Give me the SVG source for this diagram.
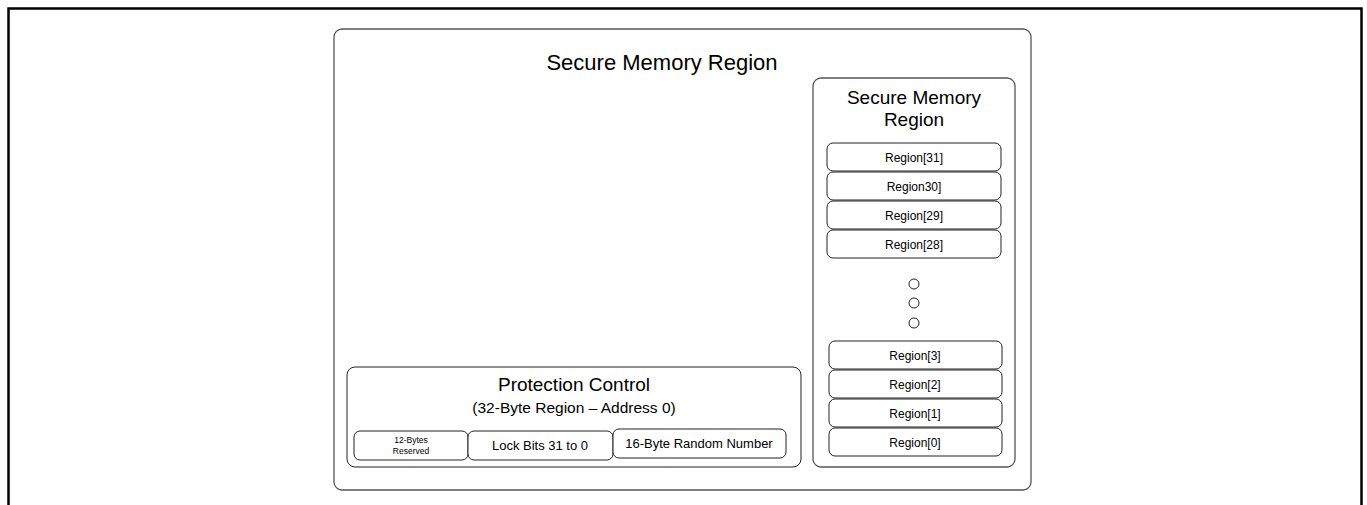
<svg xmlns="http://www.w3.org/2000/svg" width="1367" height="505" viewBox="0 0 1367 505">
<style>
text{font-family:"Liberation Sans",Arial,sans-serif;fill:#000;text-anchor:middle}
.c{fill:#fff;stroke:#555;stroke-width:1.3}
.b{fill:#fff;stroke:#222;stroke-width:1}
</style>
<rect x="0" y="0" width="1367" height="505" fill="#fff"/>
<path d="M8.5,520 V8.5 H1361.5 V520" fill="none" stroke="#000" stroke-width="2.5"/>
<g id="outer">
<rect class="c" x="334" y="29" width="697" height="461" rx="8"/>
<text x="662" y="70" font-size="22">Secure Memory Region</text>
</g>
<g id="panel">
<rect class="c" x="813" y="78" width="202" height="389" rx="8"/>
<text x="914" y="104" font-size="19">Secure Memory</text>
<text x="914" y="126" font-size="19">Region</text>
</g>
<g id="r31"><rect class="b" x="827" y="143" width="174" height="28" rx="6"/><text x="914" y="162" font-size="12">Region[31]</text></g>
<g id="r30"><rect class="b" x="827" y="172" width="174" height="28" rx="6"/><text x="914" y="191" font-size="12">Region30]</text></g>
<g id="r29"><rect class="b" x="827" y="201" width="174" height="28" rx="6"/><text x="914" y="220" font-size="12">Region[29]</text></g>
<g id="r28"><rect class="b" x="827" y="230" width="174" height="28" rx="6"/><text x="914" y="249" font-size="12">Region[28]</text></g>
<g id="dots" fill="#fff" stroke="#222" stroke-width="1">
<circle cx="914" cy="284" r="5"/>
<circle cx="914" cy="303" r="5"/>
<circle cx="914" cy="323" r="5"/>
</g>
<g id="r3"><rect class="b" x="829" y="341" width="173" height="28" rx="6"/><text x="915" y="360" font-size="12">Region[3]</text></g>
<g id="r2"><rect class="b" x="829" y="370" width="173" height="28" rx="6"/><text x="915" y="389" font-size="12">Region[2]</text></g>
<g id="r1"><rect class="b" x="829" y="399" width="173" height="28" rx="6"/><text x="915" y="418" font-size="12">Region[1]</text></g>
<g id="r0"><rect class="b" x="829" y="428" width="173" height="28" rx="6"/><text x="915" y="447" font-size="12">Region[0]</text></g>
<g id="protection">
<rect class="b" x="347" y="367" width="454" height="100" rx="8"/>
<text x="574" y="391" font-size="19">Protection Control</text>
<text x="574" y="413" font-size="15.5">(32-Byte Region – Address 0)</text>
</g>
<g id="reserved"><rect class="b" x="354" y="431" width="114" height="29" rx="6"/><text x="411" y="443" font-size="8.5">12-Bytes</text><text x="411" y="454" font-size="8.5">Reserved</text></g>
<g id="lock"><rect class="b" x="468" y="431" width="145" height="29" rx="6"/><text x="540" y="450" font-size="13">Lock Bits 31 to 0</text></g>
<g id="random"><rect class="b" x="613" y="429" width="173" height="29" rx="6"/><text x="699" y="448" font-size="13">16-Byte Random Number</text></g>
<g id="connectors"/>
</svg>
